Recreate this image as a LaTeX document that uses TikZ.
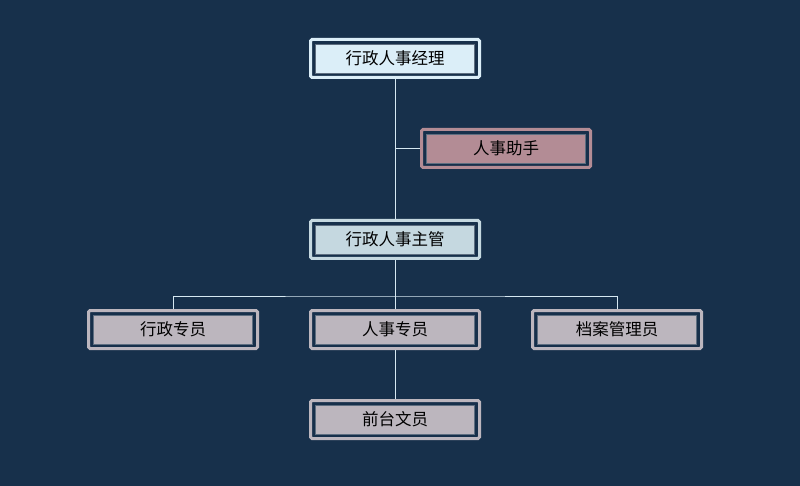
\documentclass[tikz,border=0pt]{standalone}
\usepackage{fontspec}
\newfontfamily\cjk{Noto Sans CJK SC}
\definecolor{bg}{HTML}{17304B}
\definecolor{lineC}{HTML}{D6E8F2}
\definecolor{topF}{HTML}{DBEEF8}
\definecolor{supF}{HTML}{C5D8E0}
\definecolor{pinkF}{HTML}{B38C95}
\definecolor{grayF}{HTML}{BCB6BE}
\definecolor{innerB}{HTML}{5E6E80}
\tikzset{
  outerbox/.style={draw=#1, line width=3pt, rounded corners=1.5pt, fill=bg, minimum width=169pt, minimum height=38pt, inner sep=0pt},
  innerbox/.style={fill=#1, draw=innerB, line width=0.8pt, minimum width=159pt, minimum height=29pt, inner sep=0pt, font=\cjk\fontsize{16.5}{18}\selectfont, text=black},
  conn/.style={draw=lineC, line width=1pt}
}
\begin{document}
\begin{tikzpicture}[x=1pt,y=-1pt]
\fill[bg] (0,0) rectangle (800,486);
\useasboundingbox (0,0) rectangle (800,486);
% boxes
\node[outerbox=topF] (mgr) at (395,58.5) {};
\node[innerbox=topF] (mgrT) at (mgr) {行政人事经理};
\node[outerbox=pinkF] (asst) at (506,148.5) {};
\node[innerbox=pinkF] (asstT) at (asst) {人事助手};
\node[outerbox=supF] (sup) at (395,239.5) {};
\node[innerbox=supF] (supT) at (sup) {行政人事主管};
\node[outerbox=grayF] (adm) at (173,329.5) {};
\node[innerbox=grayF] (admT) at (adm) {行政专员};
\node[outerbox=grayF] (hr) at (395,329.5) {};
\node[innerbox=grayF] (hrT) at (hr) {人事专员};
\node[outerbox=grayF] (arc) at (617,329.5) {};
\node[innerbox=grayF] (arcT) at (arc) {档案管理员};
\node[outerbox=grayF] (desk) at (395,419.5) {};
\node[innerbox=grayF] (deskT) at (desk) {前台文员};
% connectors
\draw[conn] (mgr.south) -- (sup.north);
\coordinate (j1) at (395,148.5);
\draw[conn] (j1) -- (asst.west);
\coordinate (j2) at (395,296);
\draw[conn] (sup.south) -- (j2);
\draw[conn] (adm.north) |- (j2) -| (arc.north);
\draw[conn] (j2) -- (hr.north);
\draw[conn] (hr.south) -- (desk.north);
\end{tikzpicture}
\end{document}
